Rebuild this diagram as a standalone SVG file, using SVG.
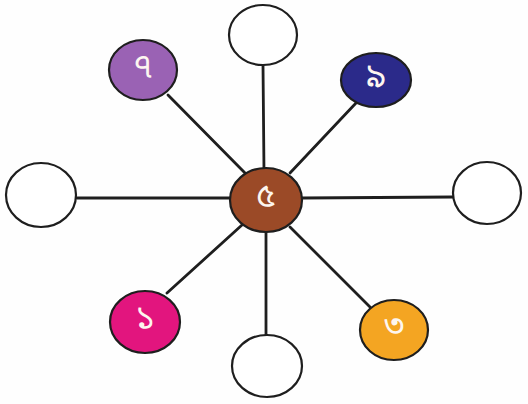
<svg xmlns="http://www.w3.org/2000/svg" width="528" height="404" viewBox="0 0 528 404">
<style>
.n{stroke:#1e1e1e;stroke-width:2.2}
.e{fill:#fff}
.c line{stroke:#1e1e1e;stroke-width:2.8;stroke-linecap:round}
.t{font-family:"Noto Sans Bengali","Noto Sans","Lohit Bengali","DejaVu Sans",sans-serif;font-size:34px;fill:#fdf6f0;text-anchor:middle;dominant-baseline:central}
</style>
<rect width="528" height="404" fill="#fefefe"/>
<g class="c" id="connectors">
<line x1="263" y1="65" x2="264" y2="172"/>
<line x1="266" y1="230" x2="266" y2="335"/>
<line x1="77" y1="198" x2="231" y2="198"/>
<line x1="302" y1="198" x2="453" y2="197"/>
<line x1="168" y1="95" x2="245" y2="173"/>
<line x1="356" y1="103" x2="290" y2="173"/>
<line x1="167" y1="293" x2="242" y2="225"/>
<line x1="370" y1="307" x2="290" y2="227"/>
</g>
<g id="top"><ellipse class="n e" cx="263" cy="35" rx="34" ry="30"/></g>
<g id="left"><ellipse class="n e" cx="41" cy="195" rx="35" ry="32"/></g>
<g id="right"><ellipse class="n e" cx="487" cy="193" rx="34" ry="31"/></g>
<g id="bottom"><ellipse class="n e" cx="267" cy="366" rx="35" ry="31"/></g>
<g id="n7"><ellipse class="n" fill="#9a62b4" cx="143" cy="70" rx="34" ry="30"/><text class="t" x="143" y="68">৭</text></g>
<g id="n9"><ellipse class="n" fill="#2b2a8a" cx="376" cy="80" rx="35" ry="27"/><text class="t" x="376" y="78">৯</text></g>
<g id="n5"><ellipse class="n" fill="#9b4a27" stroke="#5a2a14" cx="266" cy="200" rx="36" ry="32"/><text class="t" x="266" y="198">৫</text></g>
<g id="n1"><ellipse class="n" fill="#e2157e" stroke="#6a0a3a" cx="145" cy="322" rx="35" ry="31"/><text class="t" x="145" y="320">১</text></g>
<g id="n3"><ellipse class="n" fill="#f4a522" cx="394" cy="330" rx="34" ry="30"/><text class="t" x="394" y="328">৩</text></g>
</svg>
